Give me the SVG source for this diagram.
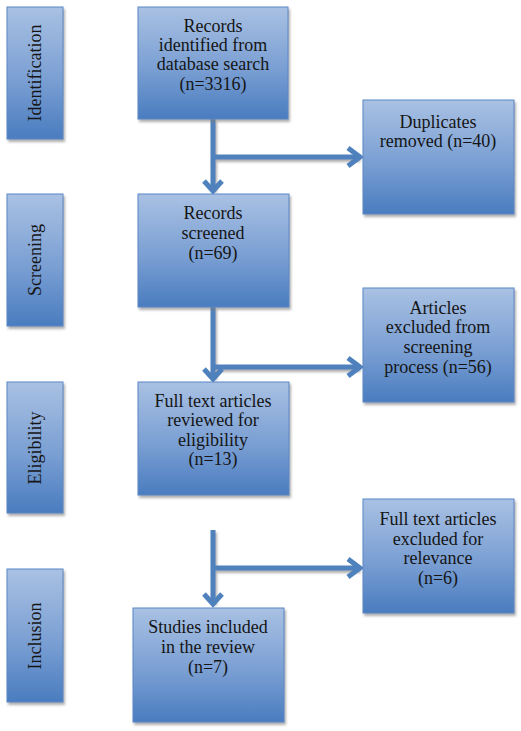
<svg xmlns="http://www.w3.org/2000/svg" width="521" height="731" viewBox="0 0 521 731">
<defs>
<linearGradient id="g" x1="0" y1="0" x2="0" y2="1">
<stop offset="0" stop-color="#a9c1e3"/>
<stop offset="0.55" stop-color="#7a9fd3"/>
<stop offset="1" stop-color="#4a7cbf"/>
</linearGradient>
<filter id="sh" x="-10%" y="-10%" width="130%" height="130%">
<feDropShadow dx="1.5" dy="2.5" stdDeviation="1" flood-color="#7a7a7a" flood-opacity="0.6"/>
</filter>
</defs>
<style>
.box{fill:url(#g);stroke:#5a88c6;stroke-width:1;filter:url(#sh)}
.t{font-family:"Liberation Serif","DejaVu Serif",serif;font-size:18px;fill:#151515;text-anchor:middle}
.ln{fill:none;stroke:#4f81bd;stroke-width:5;filter:url(#sh)}
.hd{fill:none;stroke:#4f81bd;stroke-width:5;stroke-linejoin:miter;stroke-linecap:butt}
</style>
<g id="phase-identification">
<rect class="box" x="7" y="7" width="56" height="132"/>
<text class="t" transform="translate(35,73) rotate(-90)" dy="6">Identification</text>
</g>
<g id="phase-screening">
<rect class="box" x="7" y="194" width="56" height="132"/>
<text class="t" transform="translate(35,260) rotate(-90)" dy="6">Screening</text>
</g>
<g id="phase-eligibility">
<rect class="box" x="7" y="382" width="56" height="131"/>
<text class="t" transform="translate(35,448) rotate(-90)" dy="6">Eligibility</text>
</g>
<g id="phase-inclusion">
<rect class="box" x="7" y="569" width="56" height="133"/>
<text class="t" transform="translate(35,636) rotate(-90)" dy="6">Inclusion</text>
</g>
<g id="connectors">
<path class="ln" d="M213,119 V190 M213,157 H359"/>
<path class="hd" d="M204,181 L213,191 L222,181 M348,148 L360,157 L348,166"/>
<path class="ln" d="M213,307 V378 M213,367 H359"/>
<path class="hd" d="M204,369 L213,379 L222,369 M348,358 L360,367 L348,376"/>
<path class="ln" d="M213,530 V603 M213,568 H359"/>
<path class="hd" d="M204,594 L213,604 L222,594 M348,559 L360,568 L348,577"/>
</g>
<g id="records-identified">
<rect class="box" x="138" y="7" width="150" height="112"/>
<text class="t" x="213" y="32">Records</text>
<text class="t" x="213" y="51">identified from</text>
<text class="t" x="213" y="70">database search</text>
<text class="t" x="213" y="90">(n=3316)</text>
</g>
<g id="duplicates-removed">
<rect class="box" x="363" y="100" width="151" height="114"/>
<text class="t" x="438" y="128">Duplicates</text>
<text class="t" x="438" y="147">removed (n=40)</text>
</g>
<g id="records-screened">
<rect class="box" x="138" y="194" width="151" height="113"/>
<text class="t" x="213" y="219">Records</text>
<text class="t" x="213" y="239">screened</text>
<text class="t" x="213" y="259">(n=69)</text>
</g>
<g id="articles-excluded">
<rect class="box" x="363" y="288" width="151" height="114"/>
<text class="t" x="438" y="314">Articles</text>
<text class="t" x="438" y="333">excluded from</text>
<text class="t" x="438" y="353">screening</text>
<text class="t" x="438" y="373">process (n=56)</text>
</g>
<g id="full-text-reviewed">
<rect class="box" x="138" y="382" width="151" height="113"/>
<text class="t" x="213" y="407">Full text articles</text>
<text class="t" x="213" y="426">reviewed for</text>
<text class="t" x="213" y="446">eligibility</text>
<text class="t" x="213" y="465">(n=13)</text>
</g>
<g id="full-text-excluded">
<rect class="box" x="363" y="499" width="151" height="114"/>
<text class="t" x="438" y="525">Full text articles</text>
<text class="t" x="438" y="545">excluded for</text>
<text class="t" x="438" y="564">relevance</text>
<text class="t" x="438" y="584">(n=6)</text>
</g>
<g id="studies-included">
<rect class="box" x="133" y="608" width="151" height="114"/>
<text class="t" x="208" y="633">Studies included</text>
<text class="t" x="208" y="653">in the review</text>
<text class="t" x="208" y="673">(n=7)</text>
</g>
</svg>
